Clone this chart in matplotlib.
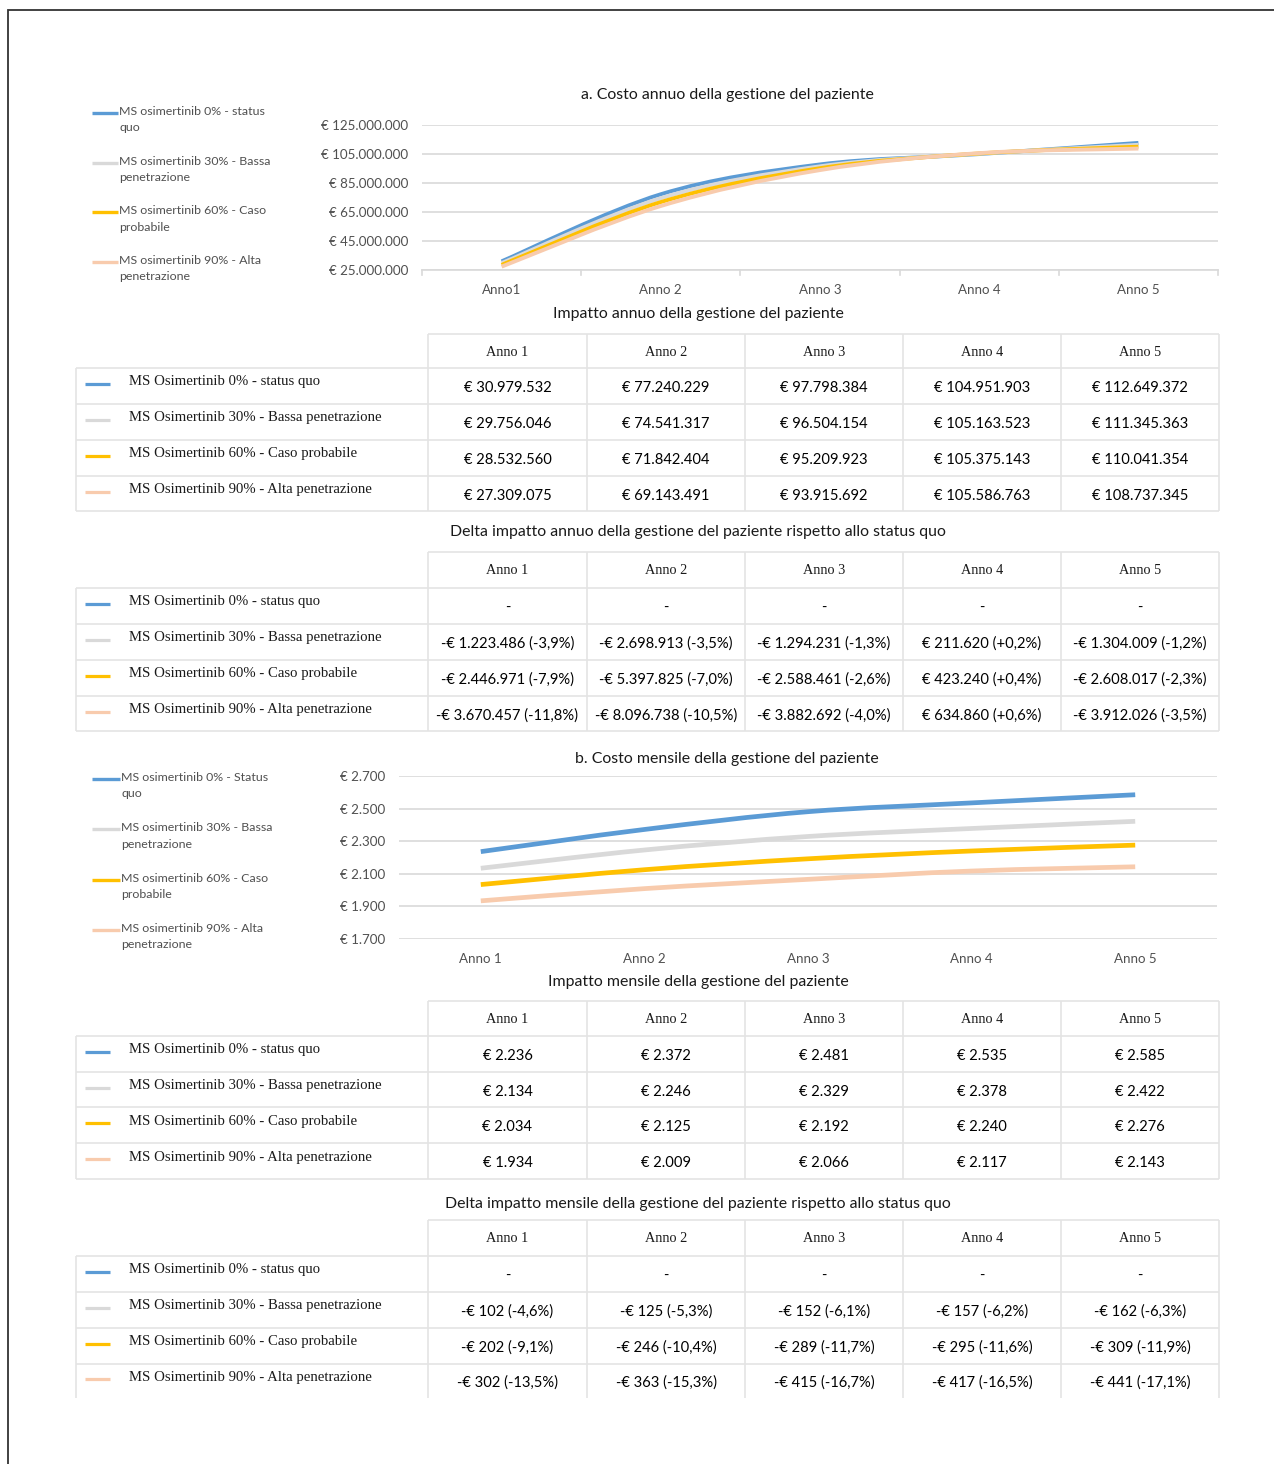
import numpy as np
import matplotlib
matplotlib.use("Agg")
import matplotlib.pyplot as plt
from matplotlib.path import Path
from matplotlib.patches import PathPatch

W, H = 1274, 1464

# ---- data ----
years = ["Anno 1", "Anno 2", "Anno 3", "Anno 4", "Anno 5"]
years_a = ["Anno1", "Anno 2", "Anno 3", "Anno 4", "Anno 5"]

table_labels = ["MS Osimertinib 0% - status quo",
                "MS Osimertinib 30% - Bassa penetrazione",
                "MS Osimertinib 60% - Caso probabile",
                "MS Osimertinib 90% - Alta penetrazione"]
legend_a = ["MS osimertinib 0% - status\nquo",
            "MS osimertinib 30% - Bassa\npenetrazione",
            "MS osimertinib 60% - Caso\nprobabile",
            "MS osimertinib 90% - Alta\npenetrazione"]
legend_b = ["MS osimertinib 0% - Status\nquo",
            "MS osimertinib 30% - Bassa\npenetrazione",
            "MS osimertinib 60% - Caso\nprobabile",
            "MS osimertinib 90% - Alta\npenetrazione"]

annual_0 = [30979532, 77240229, 97798384, 104951903, 112649372]
annual_30 = [29756046, 74541317, 96504154, 105163523, 111345363]
annual_60 = [28532560, 71842404, 95209923, 105375143, 110041354]
annual_90 = [27309075, 69143491, 93915692, 105586763, 108737345]

delta_annual_30 = [-1223486, -2698913, -1294231, 211620, -1304009]
delta_annual_60 = [-2446971, -5397825, -2588461, 423240, -2608017]
delta_annual_90 = [-3670457, -8096738, -3882692, 634860, -3912026]
pct_annual_30 = [-3.9, -3.5, -1.3, 0.2, -1.2]
pct_annual_60 = [-7.9, -7.0, -2.6, 0.4, -2.3]
pct_annual_90 = [-11.8, -10.5, -4.0, 0.6, -3.5]

monthly_0 = [2236, 2372, 2481, 2535, 2585]
monthly_30 = [2134, 2246, 2329, 2378, 2422]
monthly_60 = [2034, 2125, 2192, 2240, 2276]
monthly_90 = [1934, 2009, 2066, 2117, 2143]

delta_monthly_30 = [-102, -125, -152, -157, -162]
delta_monthly_60 = [-202, -246, -289, -295, -309]
delta_monthly_90 = [-302, -363, -415, -417, -441]
pct_monthly_30 = [-4.6, -5.3, -6.1, -6.2, -6.3]
pct_monthly_60 = [-9.1, -10.4, -11.7, -11.6, -11.9]
pct_monthly_90 = [-13.5, -15.3, -16.7, -16.5, -17.1]

annual_ticks = [25e6, 45e6, 65e6, 85e6, 105e6, 125e6]
monthly_ticks = [1700, 1900, 2100, 2300, 2500, 2700]

colors = ["#5b9bd5", "#d9d9d9", "#ffc000", "#f8cbad"]

SANS = "Lato"
SERIF = "Liberation Serif"
GREY_TXT = "#505050"
GRID = "#d9d9d9"
BORDER = "#e4e4e4"


def eur(v):
    s = f"{abs(v):,}".replace(",", ".")
    return ("-€ " if v < 0 else "€ ") + s


def delta_str(v, p):
    sign = "+" if p > 0 else "-"
    ps = f"{abs(p):.1f}".replace(".", ",")
    return f"{eur(v)} ({sign}{ps}%)"


def smooth_path(xs, ys):
    pts = np.column_stack([xs, ys]).astype(float)
    n = len(pts)
    verts = [pts[0]]
    codes = [Path.MOVETO]
    for i in range(n - 1):
        p0 = pts[max(i - 1, 0)]
        p1 = pts[i]
        p2 = pts[i + 1]
        p3 = pts[min(i + 2, n - 1)]
        verts += [p1 + (p2 - p0) / 6, p2 - (p3 - p1) / 6, p2]
        codes += [Path.CURVE4] * 3
    return Path(verts, codes)


fig = plt.figure(figsize=(W / 100, H / 100), dpi=100, facecolor="white")
bg = fig.add_axes([0, 0, 1, 1])
bg.set_xlim(0, W)
bg.set_ylim(H, 0)
bg.axis("off")

# outer frame (left and top only)
bg.plot([8, 8, W], [H, 10, 10], color="#333333", lw=1.3, solid_joinstyle="miter")


def chart_axes(left, right, top, bottom):
    return fig.add_axes([left / W, 1 - bottom / H, (right - left) / W, (bottom - top) / H],
                        facecolor="none")


def draw_chart(ax, series, ticks, fmt, xlabels, lw, title, title_y, with_ticks):
    ax.set_xlim(-0.5, len(xlabels) - 0.5)
    ax.set_ylim(ticks[0], ticks[-1])
    ax.set_yticks(ticks)
    ax.set_yticklabels([fmt(t) for t in ticks], fontsize=9.6, color=GREY_TXT, family=SANS)
    ax.set_xticks(range(len(xlabels)))
    ax.set_xticklabels(xlabels, fontsize=9.6, color=GREY_TXT, family=SANS)
    ax.tick_params(axis="y", length=0, pad=10)
    ax.tick_params(axis="x", length=0, pad=10)
    for s in ["top", "right", "left", "bottom"]:
        ax.spines[s].set_visible(False)
    ax.grid(axis="y", color=GRID, lw=1.2)
    ax.set_axisbelow(True)
    if with_ticks:
        ax.spines["bottom"].set_visible(True)
        ax.spines["bottom"].set_color(GRID)
        ax.spines["bottom"].set_linewidth(1.2)
        for b in np.arange(-0.5, len(xlabels), 1.0):
            ax.plot([b, b], [0, -0.035], transform=ax.get_xaxis_transform(),
                    color=GRID, lw=1.2, clip_on=False)
    for vals, c in zip(series, colors):
        p = smooth_path(np.arange(len(vals)), np.array(vals, dtype=float))
        ax.add_patch(PathPatch(p, fill=False, edgecolor=c, lw=lw, capstyle="butt"))
    bg.text(727, title_y, title, ha="center", va="center", fontsize=11.4,
            family=SANS, color="#1a1a1a")


def draw_legend(labels, x0, x1, y_first, step):
    for i, (lab, c) in enumerate(zip(labels, colors)):
        y = y_first + i * step
        bg.plot([x0, x1], [y, y], color=c, lw=2.4, solid_capstyle="butt")
        bg.text(x1 + 1, y - 7, lab, ha="left", va="top", fontsize=8.9, family=SANS,
                color=GREY_TXT, linespacing=1.6)


# ---- chart a ----
ax_a = chart_axes(422, 1218, 125, 270)
draw_chart(ax_a, [annual_0, annual_30, annual_60, annual_90], annual_ticks,
           lambda t: eur(int(t)), years_a, 2.8,
           "a. Costo annuo della gestione del paziente", 95, True)
draw_legend(legend_a, 92, 118, 113, 49.7)

# ---- chart b ----
ax_b = chart_axes(399, 1217, 776, 939)
draw_chart(ax_b, [monthly_0, monthly_30, monthly_60, monthly_90], monthly_ticks,
           lambda t: eur(int(t)), years, 3.4,
           "b. Costo mensile della gestione del paziente", 759, False)
draw_legend(legend_b, 92, 120, 779, 50.3)

# ---- tables ----
col_edges = [428, 587, 745, 903, 1061, 1219]
label_left = 76


def draw_table(title, title_y, row_edges, cells, bottom_line=True):
    bg.text(698, title_y, title, ha="center", va="center", fontsize=11.4,
            family=SANS, color="#1a1a1a")
    top, hdr_bot = row_edges[0], row_edges[1]
    bot = row_edges[-1]
    kw = dict(color=BORDER, lw=1.2, solid_capstyle="butt")
    # header
    bg.plot([col_edges[0], col_edges[-1]], [top, top], **kw)
    for x in col_edges:
        bg.plot([x, x], [top, bot], **kw)
    bg.plot([label_left, label_left], [hdr_bot, bot], **kw)
    for y in row_edges[1:-1]:
        bg.plot([label_left, col_edges[-1]], [y, y], **kw)
    if bottom_line:
        bg.plot([label_left, col_edges[-1]], [bot, bot], **kw)
    for j, yr in enumerate(years):
        bg.text((col_edges[j] + col_edges[j + 1]) / 2, (top + hdr_bot) / 2 + 1, yr,
                ha="center", va="center", fontsize=10.3, family=SERIF, color="#1a1a1a")
    for i, lab in enumerate(table_labels):
        mid = (row_edges[i + 1] + row_edges[i + 2]) / 2
        bg.plot([85, 110], [mid - 2, mid - 2], color=colors[i], lw=2.3, solid_capstyle="butt")
        bg.text(129, mid - 4, lab, ha="left", va="center", fontsize=10.6, family=SERIF,
                color="#1a1a1a")
        for j in range(len(years)):
            bg.text((col_edges[j] + col_edges[j + 1]) / 2, mid + 2, cells[i][j],
                    ha="center", va="center", fontsize=10.6, family=SANS, color="#000000")


annual_cells = [[eur(v) for v in r] for r in [annual_0, annual_30, annual_60, annual_90]]
draw_table("Impatto annuo della gestione del paziente", 314,
           [334, 368, 404, 440, 476, 511], annual_cells)

dash = ["-"] * 5
delta_a_cells = [dash] + [[delta_str(v, p) for v, p in zip(dv, pv)] for dv, pv in
                          [(delta_annual_30, pct_annual_30), (delta_annual_60, pct_annual_60),
                           (delta_annual_90, pct_annual_90)]]
draw_table("Delta impatto annuo della gestione del paziente rispetto allo status quo", 532,
           [552, 588, 624, 660, 696, 731], delta_a_cells)

monthly_cells = [[eur(v) for v in r] for r in [monthly_0, monthly_30, monthly_60, monthly_90]]
draw_table("Impatto mensile della gestione del paziente", 982,
           [1001, 1036, 1072, 1107, 1143, 1179], monthly_cells)

delta_m_cells = [dash] + [[delta_str(v, p) for v, p in zip(dv, pv)] for dv, pv in
                          [(delta_monthly_30, pct_monthly_30), (delta_monthly_60, pct_monthly_60),
                           (delta_monthly_90, pct_monthly_90)]]
draw_table("Delta impatto mensile della gestione del paziente rispetto allo status quo", 1204,
           [1220, 1256, 1292, 1328, 1364, 1398], delta_m_cells, bottom_line=False)

fig.savefig("out.png", dpi=100, facecolor="white")
